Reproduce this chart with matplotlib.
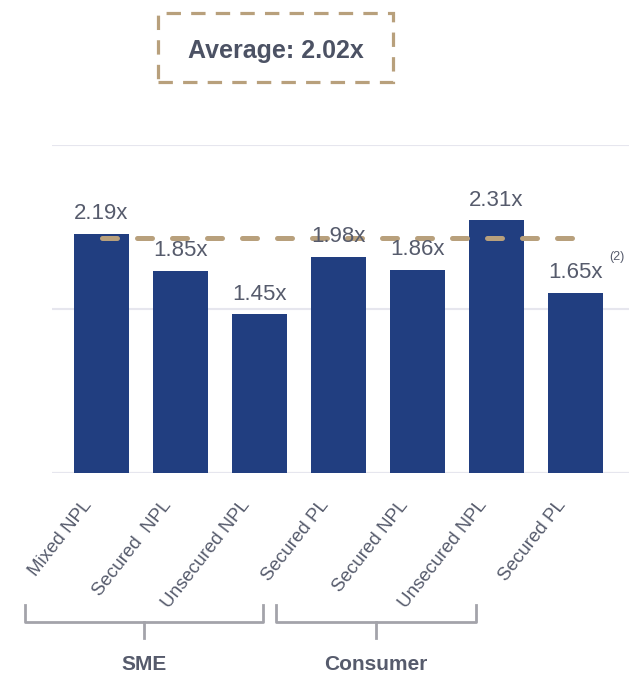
import numpy as np
import matplotlib
matplotlib.use("Agg")
import matplotlib.pyplot as plt
import matplotlib.transforms as mtransforms
from matplotlib.patches import Rectangle

plt.rcParams['font.family'] = ['Liberation Sans', 'DejaVu Sans']

# data
categories = ["Mixed NPL", "Secured  NPL", "Unsecured NPL", "Secured PL",
              "Secured NPL", "Unsecured NPL", "Secured PL"]
multiples = [2.19, 1.85, 1.45, 1.98, 1.86, 2.31, 1.65]
notes = ["", "", "", "", "", "", "(2)"]
groups = ["SME", "Consumer"]
average_text = "Average: 2.02x"
average_line_level = 2.15   # the dashed line is drawn here in the picture

bar_color = "#213e80"
text_color = "#565b6c"
gold = "#b8a07c"
bracket_color = "#a3a3aa"

fig = plt.figure(figsize=(6.29, 6.76), dpi=100)
ax = fig.add_axes([52 / 629, 1 - 473 / 676, 1 - 52 / 629, (473 - 145) / 676])

x = np.arange(len(categories))
bars = ax.bar(x, multiples, width=0.7, color=bar_color, zorder=2)

ax.set_xlim(-0.627, 6.677)
ax.set_ylim(0, 3.0)
ax.set_yticks([0, 1.5, 3.0])
ax.yaxis.grid(True, color="#e6e6ee", linewidth=1.5, zorder=0)
ax.tick_params(left=False, bottom=False, labelleft=False, labelbottom=False)
for s in ax.spines.values():
    s.set_visible(False)
ax.axhline(0, color="#dcdce4", linewidth=1.5, zorder=1)

# average dashed line
ax.plot([x[0], x[-1]], [average_line_level] * 2, color=gold, linewidth=3.6,
        dashes=(3.0, 4.0), solid_capstyle="round", dash_capstyle="round", zorder=3)

# value labels
for xi, v, n in zip(x, multiples, notes):
    ax.annotate(f"{v:.2f}x", xy=(xi, v), xytext=(0, 7), textcoords="offset points",
                ha="center", va="bottom", fontsize=16, color=text_color, zorder=4)
    if n:
        ax.annotate(n, xy=(xi, v), xytext=(24, 21), textcoords="offset points",
                    ha="left", va="bottom", fontsize=9, color=text_color)

# rotated category labels
for xi, lab in zip(x, categories):
    ax.annotate(lab, xy=(xi, 0), xycoords=("data", "axes fraction"),
                xytext=(-9, -21), textcoords="offset points", rotation=52,
                rotation_mode="anchor", ha="right", va="center",
                fontsize=13.5, color=text_color)

# group brackets
blend = mtransforms.blended_transform_factory(ax.transData, fig.transFigure)
spans = [(-0.97, 2.04), (2.21, 4.74)]
y_top, y_mid, y_tip = 1 - 605 / 676, 1 - 622 / 676, 1 - 638 / 676
for (x0, x1), g in zip(spans, groups):
    xc = (x0 + x1) / 2
    ax.plot([x0, x0, x1, x1], [y_top, y_mid, y_mid, y_top], transform=blend,
            color=bracket_color, linewidth=2, clip_on=False, solid_joinstyle="round")
    ax.plot([xc, xc], [y_mid, y_tip], transform=blend, color=bracket_color,
            linewidth=2, clip_on=False)
    ax.text(xc, 1 - 665 / 676, g, transform=blend, ha="center", va="center",
            fontsize=15, fontweight="bold", color=text_color)

# average box
box = Rectangle((158 / 629, 1 - 82 / 676), (393 - 158) / 629, (82 - 13) / 676,
                transform=fig.transFigure, fill=False, edgecolor=gold,
                linewidth=2.3, linestyle=(0, (4.5, 3.2)))
fig.add_artist(box)
fig.text(276 / 629, 1 - 51 / 676, average_text, ha="center", va="center",
         fontsize=18, fontweight="bold", color="#4c5264")

fig.savefig("out.png", dpi=100)
